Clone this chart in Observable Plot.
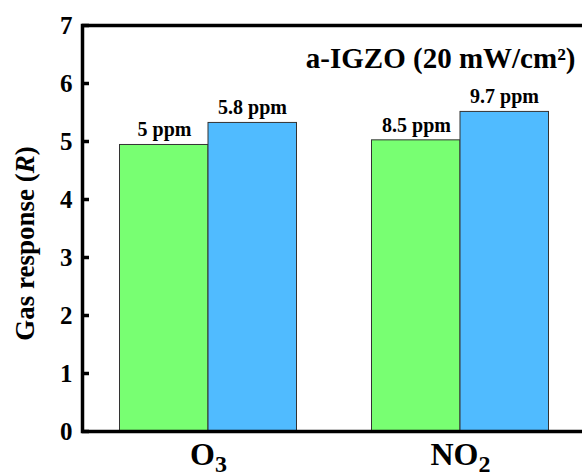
<!DOCTYPE html>
<html>
<head>
<meta charset="utf-8">
<script src="https://cdn.jsdelivr.net/npm/d3@7"></script>
<script src="https://cdn.jsdelivr.net/npm/@observablehq/plot@0.6"></script>
<style>
  html, body { margin: 0; padding: 0; background: white; overflow: hidden; }
  svg { max-width: none !important; }
</style>
</head>
<body>
<div id="chart"></div>
<script>
const gases = ["O3", "NO2"];
const gasLabels = ["O₃", "NO₂"];
const lowResp = [4.94, 5.02];
const highResp = [5.32, 5.51];
const lowConc = ["5 ppm", "8.5 ppm"];
const highConc = ["5.8 ppm", "9.7 ppm"];
const yTicks = [0, 1, 2, 3, 4, 5, 6, 7];
const title = "a-IGZO (20 mW/cm²)";
const yLabel = "Gas response (R)";

const low = gases.map((g, i) => ({gas: g, value: lowResp[i], label: lowConc[i]}));
const high = gases.map((g, i) => ({gas: g, value: highResp[i], label: highConc[i]}));

const chart = Plot.plot({
  width: 590,
  height: 476,
  marginLeft: 82,
  marginRight: 4,
  marginTop: 25,
  marginBottom: 45,
  style: {fontFamily: "'Liberation Serif', 'Times New Roman', serif", fontWeight: "bold", background: "white", color: "black", maxWidth: "none"},
  x: {domain: gases, padding: 0, label: null},
  y: {domain: [0, 7], label: null},
  marks: [
    Plot.barY(low, {x: "gas", y: "value", fill: "#78FF72", stroke: "#333", strokeWidth: 1, insetLeft: 37.5, insetRight: 126}),
    Plot.barY(high, {x: "gas", y: "value", fill: "#50BBFF", stroke: "#333", strokeWidth: 1, insetLeft: 126, insetRight: 37.5}),
    Plot.text(low, {x: "gas", y: "value", text: "label", dx: -44, dy: -15, fontSize: 20, fill: "black"}),
    Plot.text(high, {x: "gas", y: "value", text: "label", dx: 44, dy: -15, fontSize: 20, fill: "black"}),
    Plot.axisY({ticks: yTicks, tickFormat: "d", tickSize: -7, tickPadding: 17, strokeWidth: 3.5, fontSize: 25, label: null}),
    Plot.axisX({tickSize: 0, tickPadding: 11, fontSize: 32, label: null, tickFormat: (d) => gasLabels[gases.indexOf(d)]}),
    Plot.frame({stroke: "black", strokeWidth: 3.5}),
    Plot.text([title], {frameAnchor: "top-right", textAnchor: "end", lineAnchor: "middle", dx: -11, dy: 33, fontSize: 29, fill: "black"}),
    Plot.text([yLabel], {frameAnchor: "left", rotate: -90, textAnchor: "middle", lineAnchor: "middle", dx: -57, dy: 15, fontSize: 27, fill: "black"})
  ]
});

const svg = d3.select(chart);
svg.selectAll("text").filter(function() { return this.textContent === yLabel; }).each(function() {
  const t = d3.select(this);
  t.text(null);
  t.append("tspan").text("Gas response (");
  t.append("tspan").attr("font-style", "italic").text("R");
  t.append("tspan").text(")");
});

const subMap = {"₂": "2", "₃": "3"};
svg.selectAll("text").filter(function() { return gasLabels.includes(this.textContent); }).each(function() {
  const t = d3.select(this);
  const s = this.textContent;
  const base = s.slice(0, -1), sub = s.slice(-1);
  t.text(null);
  t.append("tspan").text(base);
  t.append("tspan").attr("font-size", "24px").attr("dy", "7").text(subMap[sub]);
});

document.getElementById("chart").appendChild(chart);
</script>
</body>
</html>
